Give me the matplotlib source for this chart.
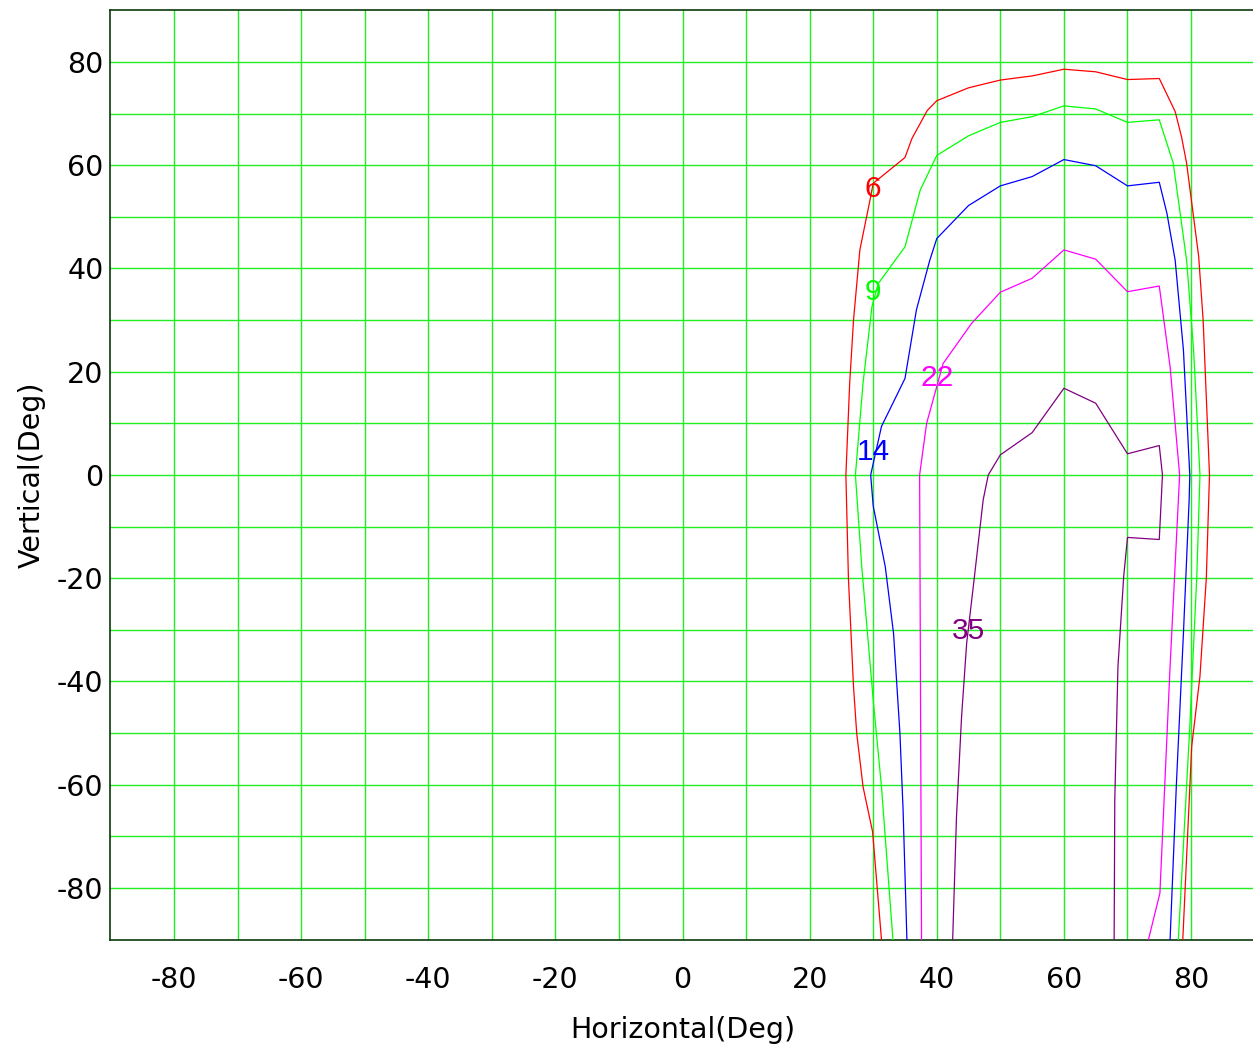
import matplotlib
matplotlib.use("Agg")
import matplotlib.pyplot as plt
import numpy as np

plt.rcParams["axes.unicode_minus"] = False

# contour levels and their outlines (Horizontal deg, Vertical deg)
levels = [6, 9, 14, 22, 35]
colors = ["#ff0000", "#00ff00", "#0000ff", "#ff00ff", "#800080"]

h6 = [31.3, 29.9, 28.4, 27.4, 26.9, 26.1, 25.7, 26.3, 26.9, 27.9, 29.5, 30.0, 35.0, 36.1, 38.5, 40.0, 45.0,
      50.0, 55.0, 60.0, 65.0, 70.0, 75.0, 77.5, 78.5, 79.3, 81.2, 81.9, 82.9, 82.4, 81.4, 80.1, 78.7]
v6 = [-90, -69.1, -60.4, -50, -41, -20, 0, 17.8, 30, 43.6, 53.3, 56.5, 61.5, 65.2, 70.6, 72.5, 75.0,
      76.5, 77.3, 78.6, 78.1, 76.6, 76.8, 70.4, 65.5, 60.4, 42.3, 30, 0, -20, -39, -52.6, -90]

h9 = [33.1, 31.3, 30.0, 28.2, 27.2, 28.4, 29.8, 30.8, 35.0, 37.4, 40.0, 45.0, 50.0, 55.0, 60.0, 65.0,
      70.0, 75.0, 77.2, 79.3, 80.4, 81.4, 80.9, 79.8, 78.0]
v9 = [-90, -60.4, -43.6, -17.8, 0, 17.8, 32.6, 37.1, 44.2, 55.2, 61.9, 65.7, 68.3, 69.4, 71.5, 70.9,
      68.3, 68.8, 60.4, 41.6, 24.2, 0, -19.7, -48.8, -90]

h14 = [35.3, 34.7, 34.2, 33.2, 31.9, 30.0, 29.6, 31.3, 35.0, 36.8, 38.9, 40.0, 45.0, 50.0, 55.0, 60.0,
       65.0, 70.0, 75.0, 76.2, 77.5, 78.8, 79.8, 79.7, 78.8, 77.7, 76.7]
v14 = [-90, -64.9, -50, -30.7, -17.8, -6.0, 0, 9.4, 18.7, 32, 41.6, 45.8, 52.2, 56.0, 57.8, 61.1,
       59.9, 56.0, 56.7, 50.7, 41.6, 24.2, 0, -4.8, -30.7, -59.7, -90]

h22 = [37.6, 37.3, 38.4, 41.0, 45.5, 50.0, 55.0, 60.0, 65.0, 70.0, 75.0, 76.7, 78.2, 76.7, 75.1, 73.3]
v22 = [-90, 0, 10, 21.6, 29.4, 35.4, 38.1, 43.6, 41.8, 35.5, 36.6, 21, 0, -37.1, -81, -90]

h35 = [42.5, 43.1, 43.9, 44.7, 45.8, 47.3, 48.1, 50.0, 55.0, 60.0, 65.0, 70.0, 75.0, 75.5, 75.0, 70.0,
       69.4, 68.5, 68.0, 67.9]
v35 = [-90, -66.2, -46.8, -32.6, -21, -4.8, 0, 3.9, 8.2, 16.8, 13.9, 4.1, 5.7, 0, -12.5, -12.1,
       -19.7, -37.1, -63, -90]

outlines = [(h6, v6), (h9, v9), (h14, v14), (h22, v22), (h35, v35)]
label_pos = [(30.0, 55.4), (29.9, 35.5), (30.0, 4.5), (40.0, 18.8), (45.0, -30.2)]

ticks = np.arange(-80, 81, 20)
grid_lines = np.arange(-80, 81, 10)

fig = plt.figure(figsize=(12.53, 10.47), dpi=100)
ax = fig.add_axes([0.0881, 0.1026, 0.9132, 0.8875])

for g in grid_lines:
    ax.axvline(g, color="#22ee22", lw=1.0, zorder=1)
    ax.axhline(g, color="#22ee22", lw=1.0, zorder=1)

for (h, v), c in zip(outlines, colors):
    ax.plot(h, v, color=c, lw=0.9, zorder=3)

for lvl, (x, y), c in zip(levels, label_pos, colors):
    ax.text(x, y, str(lvl), color=c, fontsize=21.5, family="Liberation Sans",
            ha="center", va="center", zorder=4)

ax.set_xlim(-90, 90)
ax.set_ylim(-90, 90)
ax.set_xticks(ticks)
ax.set_yticks(ticks)
ax.tick_params(length=0, labelsize=20.5)
ax.tick_params(axis="x", pad=19)
ax.tick_params(axis="y", pad=5)

for side in ["left", "bottom", "top"]:
    ax.spines[side].set_color("#0a3a0a")
    ax.spines[side].set_linewidth(1.2)
ax.spines["right"].set_visible(False)

ax.set_xlabel("Horizontal(Deg)", fontsize=20.5, labelpad=16)
ax.set_ylabel("Vertical(Deg)", fontsize=20.5, labelpad=8)

fig.savefig("out.png", dpi=100)
